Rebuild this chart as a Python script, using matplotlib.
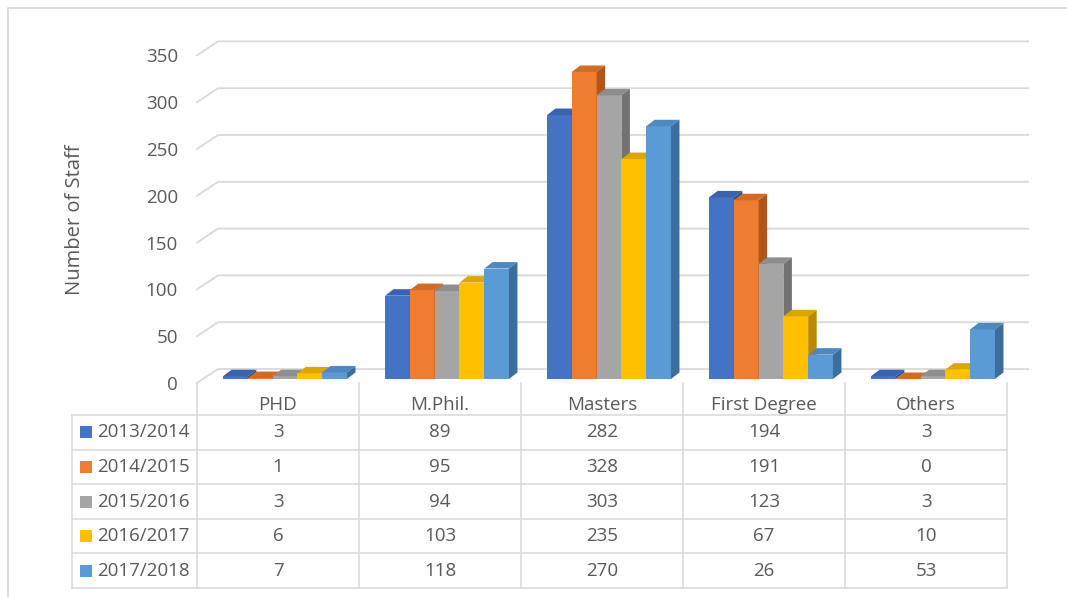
import matplotlib
matplotlib.use("Agg")
import matplotlib.pyplot as plt
from matplotlib.patches import Polygon, Rectangle
from matplotlib.lines import Line2D

plt.rcParams['font.family'] = ['Open Sans', 'DejaVu Sans']

# ---- data ----
categories = ["PHD", "M.Phil.", "Masters", "First Degree", "Others"]
years = ["2013/2014", "2014/2015", "2015/2016", "2016/2017", "2017/2018"]
staff_2013 = [3, 89, 282, 194, 3]
staff_2014 = [1, 95, 328, 191, 0]
staff_2015 = [3, 94, 303, 123, 3]
staff_2016 = [6, 103, 235, 67, 10]
staff_2017 = [7, 118, 270, 26, 53]
series = [staff_2013, staff_2014, staff_2015, staff_2016, staff_2017]
y_ticks = [0, 50, 100, 150, 200, 250, 300, 350]

front_cols = ["#4472C4", "#ED7D31", "#A5A5A5", "#FFC000", "#5B9BD5"]
top_cols = ["#3A63AE", "#D26B24", "#8E8E8E", "#DDA500", "#4F88BE"]
side_cols = ["#2E5192", "#B0561A", "#727272", "#BA8A00", "#3B6E9E"]
grid_col = "#D9D9D9"
text_col = "#595959"
FS = 13.5

W, H = 1067, 597
fig = plt.figure(figsize=(W / 100, H / 100), dpi=100)
fig.patch.set_facecolor("white")

# ---- plot area (front plane of the columns) ----
ax = fig.add_axes([203 / W, (H - 379) / H, 810 / W, 327.6 / H])
ax.set_xlim(-0.5, 4.5)
ax.set_ylim(0, 350)
ax.axis("off")

px_x = ax.bbox.width / 5.0      # pixels per category unit
px_y = ax.bbox.height / 350.0   # pixels per staff unit

def ox(p):
    return p / px_x

def oy(p):
    return p / px_y

# back wall gridlines with the oblique floor edge on the left
back_dx, back_dy = ox(15), oy(10)
front_dx, front_dy = ox(-6), oy(-4)
for v in y_ticks:
    ax.add_line(Line2D([-0.5 + front_dx, -0.5 + back_dx, 4.5 + back_dx],
                       [v + front_dy, v + back_dy, v + back_dy],
                       color=grid_col, lw=1.3, clip_on=False, zorder=1))
    ax.text(-0.5 - ox(25), v - oy(6), str(v), ha="right", va="center",
            fontsize=FS, color=text_col, clip_on=False)

# 3D clustered columns
bw = 0.153
dx, dy = ox(8.5), oy(6.5)
for c in range(len(categories)):
    for i, vals in enumerate(series):
        v = vals[c]
        x0 = c + (i - 2) * bw - bw / 2 + ox(1)
        x1 = x0 + bw
        z = 3 + c * 10 + i * 2
        ax.bar(x0, v, width=bw, align="edge", color=front_cols[i],
               linewidth=0, clip_on=False, zorder=z)
        ax.add_patch(Polygon([(x0, v), (x1, v), (x1 + dx, v + dy), (x0 + dx, v + dy)],
                             closed=True, facecolor=top_cols[i], edgecolor="none",
                             clip_on=False, zorder=z + 0.5))
        ax.add_patch(Polygon([(x1, 0), (x1 + dx, dy), (x1 + dx, v + dy), (x1, v)],
                             closed=True, facecolor=side_cols[i], edgecolor="none",
                             clip_on=False, zorder=z + 0.5))

# ---- data table ----
tax = fig.add_axes([72 / W, (H - 588) / H, (1007 - 72) / W, (588 - 383) / H])
lab_left = -0.5 - 125 / 162
tax.set_xlim(lab_left, 4.5)
tax.set_ylim(5, -0.925)
tax.axis("off")
tw = 1.1
for r in range(6):
    tax.add_line(Line2D([lab_left, 4.5], [r, r], color=grid_col, lw=tw, clip_on=False))
tax.add_line(Line2D([lab_left, lab_left], [0, 5], color=grid_col, lw=tw, clip_on=False))
for k in range(6):
    tax.add_line(Line2D([k - 0.5, k - 0.5], [-0.925, 5], color=grid_col, lw=tw, clip_on=False))

for c, name in enumerate(categories):
    tax.text(c, -0.29, name, ha="center", va="center", fontsize=FS, color=text_col)

sq_w = 12 / 162
sq_h = 12 / 34.6
for r, (yr, vals) in enumerate(zip(years, series)):
    yc = r + 0.5
    tax.add_patch(Rectangle((lab_left + 8 / 162, yc - sq_h / 2), sq_w, sq_h,
                            facecolor=front_cols[r], edgecolor="none"))
    tax.text(lab_left + 25 / 162, yc, yr, ha="left", va="center",
             fontsize=FS, color=text_col)
    for c, v in enumerate(vals):
        tax.text(c, yc, str(v), ha="center", va="center", fontsize=FS, color=text_col)

# axis title
fig.text(75 / W, 1 - 220 / H, "Number of Staff", rotation=90, ha="center",
         va="center", fontsize=14.5, color=text_col)

# chart area border
fig.add_artist(Line2D([8 / W, 8 / W, 1.01], [-0.01, 1 - 8 / H, 1 - 8 / H],
                      transform=fig.transFigure, color=grid_col, lw=1.3))

fig.savefig("out.png", dpi=100, facecolor="white")
